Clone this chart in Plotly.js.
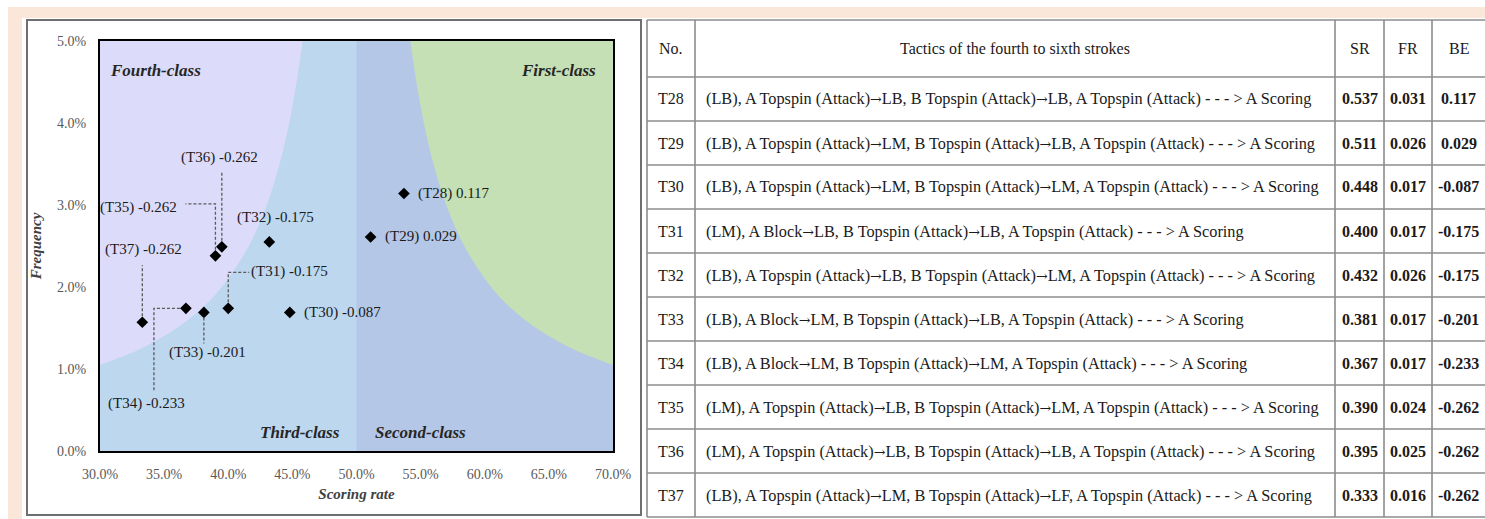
<!DOCTYPE html>
<html><head><meta charset="utf-8">
<script src="https://cdn.plot.ly/plotly-3.0.1.min.js"></script>
<style>html,body{margin:0;padding:0;background:#fff}#chart{width:1485px;height:519px}</style>
</head><body><div id="chart"></div>
<script>
// ---------- data ----------
const ids = ['T28','T29','T30','T31','T32','T33','T34','T35','T36','T37'];
const tactics = [
  '(LB), A Topspin (Attack)→LB, B Topspin (Attack)→LB, A Topspin (Attack) - - - > A Scoring',
  '(LB), A Topspin (Attack)→LM, B Topspin (Attack)→LB, A Topspin (Attack) - - - > A Scoring',
  '(LB), A Topspin (Attack)→LM, B Topspin (Attack)→LM, A Topspin (Attack) - - - > A Scoring',
  '(LM), A Block→LB, B Topspin (Attack)→LB, A Topspin (Attack) - - - > A Scoring',
  '(LB), A Topspin (Attack)→LB, B Topspin (Attack)→LM, A Topspin (Attack) - - - > A Scoring',
  '(LB), A Block→LM, B Topspin (Attack)→LB, A Topspin (Attack) - - - > A Scoring',
  '(LB), A Block→LM, B Topspin (Attack)→LM, A Topspin (Attack) - - - > A Scoring',
  '(LM), A Topspin (Attack)→LB, B Topspin (Attack)→LM, A Topspin (Attack) - - - > A Scoring',
  '(LM), A Topspin (Attack)→LB, B Topspin (Attack)→LB, A Topspin (Attack) - - - > A Scoring',
  '(LB), A Topspin (Attack)→LM, B Topspin (Attack)→LF, A Topspin (Attack) - - - > A Scoring'
];
const scoringRate = [0.537,0.511,0.448,0.400,0.432,0.381,0.367,0.390,0.395,0.333];
const frequency   = [0.031,0.026,0.017,0.017,0.026,0.017,0.017,0.024,0.025,0.016];
const benefit     = [0.117,0.029,-0.087,-0.175,-0.175,-0.201,-0.233,-0.262,-0.262,-0.262];
// frequency positions as plotted in the scatter
const plottedFrequency = [0.0314,0.0261,0.0169,0.0174,0.0255,0.0169,0.0174,0.0238,0.0249,0.0157];
const headerLabels = ['No.','Tactics of the fourth to sixth strokes','SR','FR','BE'];
// class boundary curves
const boundaryY      = [0.0105,0.0115,0.0125,0.015,0.0175,0.020,0.025,0.030,0.035,0.040,0.045,0.050];
const leftBoundaryX  = [0.300,0.317,0.332,0.360,0.380,0.395,0.416,0.430,0.440,0.4475,0.4533,0.458];
const rightBoundaryX = [0.700,0.683,0.668,0.640,0.620,0.605,0.584,0.570,0.560,0.5525,0.5467,0.542];
const classLabels = ['Fourth-class','First-class','Third-class','Second-class'];

// ---------- geometry ----------
const W=1485, H=519;
const px = v => v/W, py = v => 1 - v/H;
const plotL=100, plotR=613, plotT=41, plotB=451;
const xRange=[0.30,0.70], yRange=[0,0.05];
const dxPerPx=(xRange[1]-xRange[0])/(plotR-plotL);
const dyPerPx=(yRange[1]-yRange[0])/(plotB-plotT);
// table grid (pixels)
const colEdges = [647,695,1335,1384,1432,1485];
const tableTop = 20, headerH = 57, rowH = 44;

// label placement (pixels, y down) and leader polylines
const placement = {
  T28:{dx:12,dy:0,anchor:'left'},
  T29:{dx:12,dy:0,anchor:'left'},
  T30:{dx:12,dy:0,anchor:'left'},
  T31:{dx:21,dy:-37,anchor:'left',leader:[[0,-6],[0,-36],[21,-36]]},
  T32:{dx:6,dy:-24,anchor:'center'},
  T33:{dx:4,dy:40,anchor:'center',leader:[[0,5],[0,31]]},
  T34:{dx:-39,dy:95,anchor:'center',leader:[[-6,0],[-32,0],[-32,82]]},
  T35:{dx:-36,dy:-48,anchor:'right',leader:[[0,-6],[0,-52],[-30,-52]]},
  T36:{dx:-2,dy:-89,anchor:'center',leader:[[0,-6],[0,-75]]},
  T37:{dx:1,dy:-73,anchor:'center',leader:[[0,-6],[0,-57]]}
};

const serif = 'Liberation Serif, Times New Roman, serif';
const colors = {fourth:'#dcdcfa', third:'#bdd7ee', second:'#b4c7e7', first:'#c5e0b4', peach:'#fbe7d9', grid:'#8c8c8c', text:'#1a1a1a'};

const traces = [];
// fourth-class region (above left curve)
traces.push({x:[xRange[0], leftBoundaryX[leftBoundaryX.length-1]], y:[yRange[1],yRange[1]], mode:'lines', line:{width:0}, hoverinfo:'skip', showlegend:false});
traces.push({x:leftBoundaryX, y:boundaryY, mode:'lines', line:{width:0, shape:'spline'}, fill:'tonexty', fillcolor:colors.fourth, hoverinfo:'skip', showlegend:false});
// first-class region (above right curve)
traces.push({x:[xRange[1], rightBoundaryX[rightBoundaryX.length-1]], y:[yRange[1],yRange[1]], mode:'lines', line:{width:0}, hoverinfo:'skip', showlegend:false});
traces.push({x:rightBoundaryX, y:boundaryY, mode:'lines', line:{width:0, shape:'spline'}, fill:'tonexty', fillcolor:colors.first, hoverinfo:'skip', showlegend:false});
// points
traces.push({x:scoringRate, y:plottedFrequency, text:ids, mode:'markers', marker:{symbol:'diamond', size:9, color:'#000'}, showlegend:false});

const shapes = [
  {type:'rect', xref:'paper', yref:'paper', x0:px(8), x1:1, y0:py(18), y1:py(7), fillcolor:colors.peach, line:{width:0}, layer:'below'},
  {type:'rect', xref:'paper', yref:'paper', x0:px(8), x1:px(22), y0:0, y1:py(7), fillcolor:colors.peach, line:{width:0}, layer:'below'},
  {type:'rect', xref:'paper', yref:'paper', x0:px(27), x1:px(641), y0:py(515), y1:py(20), line:{color:'#6f6f6f', width:2}, fillcolor:'rgba(0,0,0,0)'},
  {type:'rect', xref:'x', yref:'y', x0:0.5, x1:xRange[1], y0:yRange[0], y1:yRange[1], fillcolor:colors.second, line:{width:0}, layer:'below'}
];
const annotations = [];
ids.forEach((id,i)=>{
  const p = placement[id];
  annotations.push({x:scoringRate[i], y:plottedFrequency[i], xref:'x', yref:'y', showarrow:false,
    text:'('+id+') '+benefit[i].toFixed(3), xanchor:p.anchor, yanchor:'middle',
    xshift:p.dx, yshift:-p.dy, font:{family:serif, size:15, color:'#1a1a1a'}});
  if (p.leader){
    const pts = p.leader.map(([a,b]) => (scoringRate[i]+a*dxPerPx).toFixed(5)+','+(plottedFrequency[i]-b*dyPerPx).toFixed(6));
    shapes.push({type:'path', xref:'x', yref:'y', path:'M'+pts.join(' L'), line:{color:'#595959', width:1.3, dash:'3px,2px'}});
  }
});
const regionFont = {family:serif, size:17, color:'#262626'};
annotations.push({xref:'paper', yref:'paper', x:px(108), y:py(70), xanchor:'left', yanchor:'middle', showarrow:false, text:'<b><i>'+classLabels[0]+'</i></b>', font:regionFont});
annotations.push({xref:'paper', yref:'paper', x:px(598), y:py(70), xanchor:'right', yanchor:'middle', showarrow:false, text:'<b><i>'+classLabels[1]+'</i></b>', font:regionFont});
annotations.push({xref:'paper', yref:'paper', x:px(258), y:py(432), xanchor:'left', yanchor:'middle', showarrow:false, text:'<b><i>'+classLabels[2]+'</i></b>', font:regionFont});
annotations.push({xref:'paper', yref:'paper', x:px(373), y:py(432), xanchor:'left', yanchor:'middle', showarrow:false, text:'<b><i>'+classLabels[3]+'</i></b>', font:regionFont});

// ---------- table (grid shapes + cell annotations) ----------
const nRows = ids.length;
const rowEdges = [tableTop, tableTop+headerH];
for (let r=0;r<nRows;r++) rowEdges.push(rowEdges[rowEdges.length-1]+rowH);
const tableBottom = rowEdges[rowEdges.length-1];
rowEdges.forEach(yv => shapes.push({type:'line', xref:'paper', yref:'paper', x0:px(colEdges[0]), x1:1, y0:py(yv), y1:py(yv), line:{color:colors.grid, width:1.6}}));
colEdges.slice(0,-1).forEach(xv => shapes.push({type:'line', xref:'paper', yref:'paper', x0:px(xv), x1:px(xv), y0:py(tableTop), y1:py(tableBottom), line:{color:colors.grid, width:1.6}}));
const cellFont = {family:serif, size:16, color:colors.text};
const tacticFont = {family:serif, size:16.3, color:colors.text};
const arrowify = s => s.split('→').join('<span style="font-family:DejaVu Serif;font-size:14px">→</span>');
const colCenter = c => (colEdges[c]+colEdges[c+1])/2;
headerLabels.forEach((h,c)=>{
  annotations.push({xref:'paper', yref:'paper', x:px(colCenter(c)), y:py(tableTop+headerH/2), xanchor:'center', yanchor:'middle', showarrow:false, text:h, font:cellFont});
});
const colValues = [ids, tactics.map(arrowify), scoringRate.map(v=>'<b>'+v.toFixed(3)+'</b>'), frequency.map(v=>'<b>'+v.toFixed(3)+'</b>'), benefit.map(v=>'<b>'+v.toFixed(3)+'</b>')];
for (let r=0;r<nRows;r++){
  const yc = rowEdges[r+1] + rowH/2;
  colValues.forEach((vals,c)=>{
    const left = (c===1);
    annotations.push({xref:'paper', yref:'paper', x: left ? px(colEdges[1]+9) : px(colCenter(c)), y:py(yc),
      xanchor: left ? 'left':'center', yanchor:'middle', showarrow:false, text:vals[r], font: left ? tacticFont : cellFont});
  });
}

const axisCommon = {showgrid:false, zeroline:false, showline:true, mirror:true, linecolor:'#000', linewidth:2,
  ticks:'', tickformat:'.1%', tickfont:{family:serif, size:14, color:'#595959'}, automargin:false, fixedrange:true};
const layout = {
  width:W, height:H, margin:{l:0,r:0,t:0,b:0}, paper_bgcolor:'#ffffff', plot_bgcolor:colors.third,
  showlegend:false, hovermode:'closest',
  xaxis:Object.assign({}, axisCommon, {domain:[px(plotL), px(plotR)], range:xRange, tick0:0.3, dtick:0.05, ticklabelstandoff:9,
    title:{text:'<b><i>Scoring rate</i></b>', font:{family:serif, size:15, color:'#404040'}, standoff:8}}),
  yaxis:Object.assign({}, axisCommon, {domain:[py(plotB), py(plotT)], range:yRange, tick0:0, dtick:0.01, ticklabelstandoff:9,
    title:{text:'<b><i>Frequency</i></b>', font:{family:serif, size:15, color:'#404040'}, standoff:12}}),
  shapes:shapes, annotations:annotations
};
Plotly.newPlot('chart', traces, layout, {displayModeBar:false});
</script></body></html>
